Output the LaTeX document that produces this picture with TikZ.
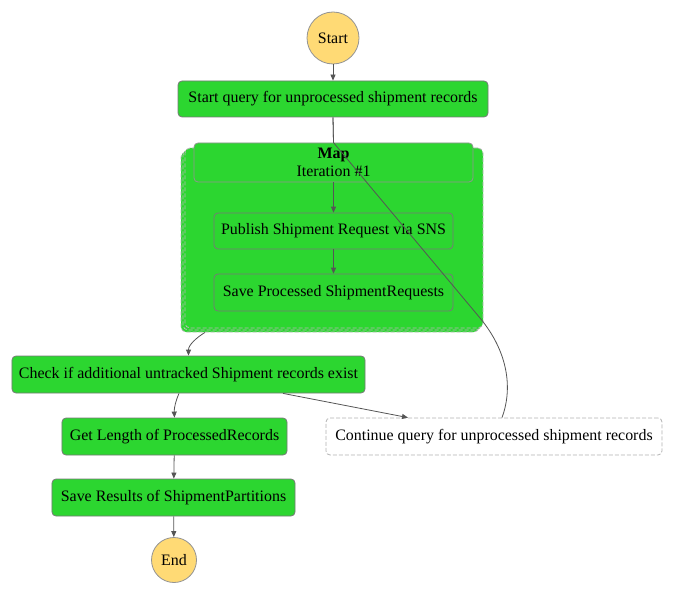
\documentclass[tikz,border=0pt]{standalone}
\usepackage{fontspec}
\setmainfont{Liberation Serif}
\usetikzlibrary{arrows.meta}
\definecolor{stategreen}{RGB}{44,214,48}
\definecolor{termyellow}{RGB}{255,218,117}
\definecolor{edgegray}{RGB}{85,85,85}
\definecolor{boxgray}{RGB}{120,120,120}
\begin{document}
\begin{tikzpicture}[x=1bp,y=-1bp,
  font=\fontsize{16}{19}\selectfont,
  term/.style={circle,draw=boxgray!80,fill=termyellow,line width=0.8bp,inner sep=0pt,minimum size=#1},
  state/.style={rectangle,rounded corners=4bp,draw=boxgray,fill=stategreen,line width=0.8bp,inner sep=0pt},
  mapback/.style={rectangle,rounded corners=5bp,draw=gray!55,dashed,dash pattern=on 4bp off 2bp,fill=stategreen,line width=0.8bp,minimum width=298bp,minimum height=180bp},
  edge/.style={draw=edgegray,line width=0.8bp},
  arr/.style={edge,-{Triangle[length=6bp,width=5bp]}}]
\useasboundingbox (0,0) rectangle (674,594);
% start and the first query
\node[term=52bp] (start) at (333,38) {Start};
\node[state,minimum width=310bp,minimum height=36bp] (query) at (333,99) {Start query for unprocessed shipment records};
% map state, drawn as a stack
\node[mapback] (mapC) at (330,242) {};
\node[mapback] (mapB) at (332,240) {};
\node[mapback] (mapA) at (334,238) {};
\node[state,draw=boxgray!80,minimum width=279bp,minimum height=39bp,align=center] (maphead) at (333.5,162.5)
  {\textbf{Map}\\[-1bp]Iteration \#1};
\node[state,minimum width=239bp,minimum height=36bp] (publish) at (333.5,231) {Publish Shipment Request via SNS};
\node[state,minimum width=239bp,minimum height=37bp] (saveproc) at (333.5,292.5) {Save Processed ShipmentRequests};
% after the map
\node[state,minimum width=353bp,minimum height=37bp] (check) at (188.5,374.5) {Check if additional untracked Shipment records exist};
\node[state,minimum width=225bp,minimum height=37bp] (getlen) at (174.5,436.5) {Get Length of ProcessedRecords};
\node[state,fill=white,draw=gray!60,dashed,dash pattern=on 4bp off 2bp,minimum width=336bp,minimum height=37bp] (cont) at (494,436.5) {Continue query for unprocessed shipment records};
\node[state,minimum width=243bp,minimum height=37bp] (saveres) at (173.5,497.5) {Save Results of ShipmentPartitions};
\node[term=45bp] (end) at (174,560) {End};
% connectors
\draw[arr] (start) -- (query);
\draw[edge] (query.south) -- (maphead.north);
\draw[arr] (maphead) -- (publish);
\draw[arr] (publish) -- (saveproc);
\draw[arr] ([xshift=-125bp]mapC.south) .. controls (196,338) and (188.5,345) .. (check.north);
\draw[arr] ([xshift=-9.5bp]check.south) .. controls (176,400) and (174,408) .. (getlen.north);
\draw[arr] ([xshift=94.5bp]check.south) -- ([xshift=-86bp]cont.north);
\draw[arr] (getlen) -- (saveres);
\draw[arr] (saveres) -- (end);
\coordinate (bend) at (480,318);
\draw[edge] ([xshift=8bp]cont.north) .. controls (514,385) and (505.6,348.8) .. (bend) -- (maphead.north) -- (query.south);
\end{tikzpicture}
\end{document}
